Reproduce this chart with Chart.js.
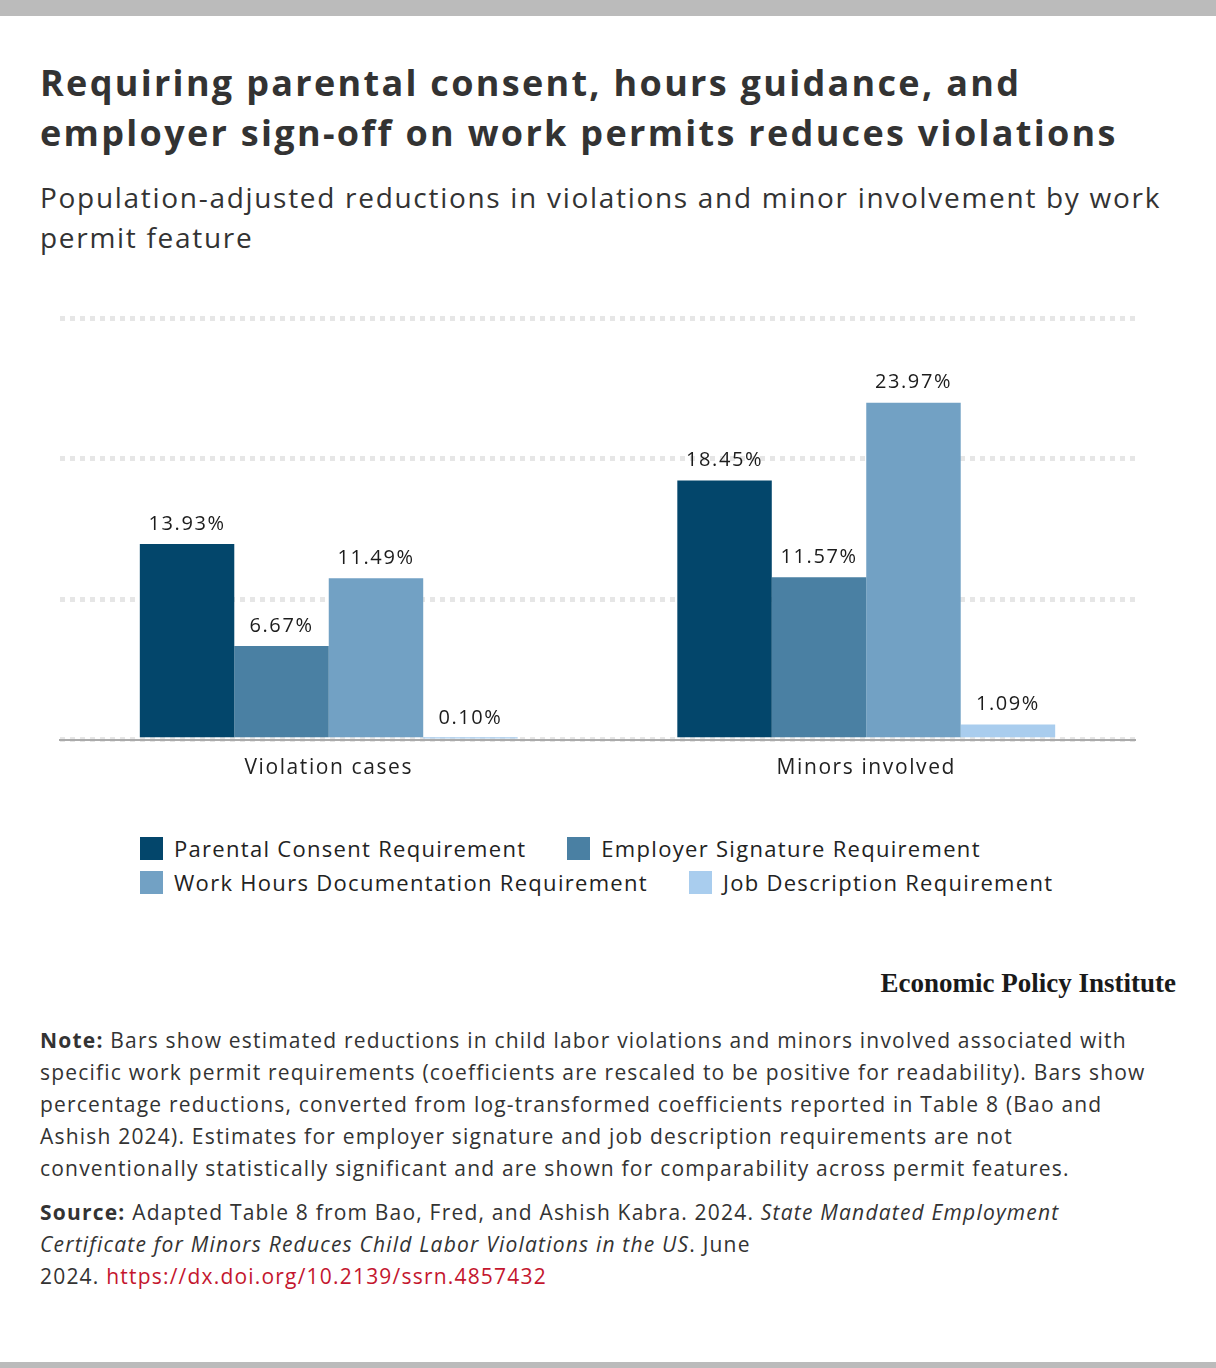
<html>
<head>
	<meta charset="utf-8">
	<title>Work permit features and child labor violations</title>
	<script src="https://cdn.jsdelivr.net/npm/chart.js@4.4.1/dist/chart.umd.min.js"></script>
	<style>
		body { margin: 0; background: #fff; font-family: "Open Sans", Lato, sans-serif; color: #333; }
		#page { position: relative; width: 1216px; height: 1368px; overflow: hidden; }
		.barre { position: absolute; left: 0; width: 1216px; background: #bbbbbb; }
		#titre { position: absolute; left: 40px; top: 58px; font-size: 36px; font-weight: 700; line-height: 50px; letter-spacing: 2.3px; color: #333; white-space: nowrap; }
		#soustitre { position: absolute; left: 40px; top: 177px; font-size: 28px; line-height: 40px; letter-spacing: 1.7px; color: #333; white-space: nowrap; }
		#zone { position: absolute; left: 0; top: 280px; width: 1216px; height: 522px; }
		#legende { position: absolute; left: 140px; top: 831px; font-size: 22px; letter-spacing: 1.3px; color: #222; }
		.ligne { display: flex; height: 34px; align-items: center; white-space: nowrap; }
		.item { display: flex; align-items: center; margin-right: 41px; }
		.carre { width: 23px; height: 23px; margin-right: 11px; }
		#logo { position: absolute; right: 40px; top: 968px; font-family: "Liberation Serif", serif; font-weight: 700; font-size: 27px; color: #1a1a1a; }
		#notes { position: absolute; left: 40px; top: 1024px; font-size: 21px; line-height: 32px; letter-spacing: 1.2px; color: #333; white-space: nowrap; }
		#notes p { margin: 0 0 12px 0; }
		a { color: #c4162e; text-decoration: none; }
	</style>
</head>
<body>
<div id="page">
	<div class="barre" style="top:0; height:16px;"></div>

	<div id="titre">Requiring parental consent, hours guidance, and<br>employer sign-off on work permits reduces violations</div>
	<div id="soustitre">Population-adjusted reductions in violations and minor involvement by work<br>permit feature</div>

	<!-- zone du graphique -->
	<div id="zone"><canvas id="graphe"></canvas></div>

	<div id="legende"></div>

	<div id="logo">Economic Policy Institute</div>

	<div id="notes">
		<p><b>Note:</b> Bars show estimated reductions in child labor violations and minors involved associated with<br>specific work permit requirements (coefficients are rescaled to be positive for readability). Bars show<br>percentage reductions, converted from log-transformed coefficients reported in Table 8 (Bao and<br>Ashish 2024). Estimates for employer signature and job description requirements are not<br>conventionally statistically significant and are shown for comparability across permit features.</p>
		<p><b>Source:</b> Adapted Table 8 from Bao, Fred, and Ashish Kabra. 2024. <i>State Mandated Employment<br>Certificate for Minors Reduces Child Labor Violations in the US</i>. June<br>2024. <a href="https://dx.doi.org/10.2139/ssrn.4857432">https://dx.doi.org/10.2139/ssrn.4857432</a></p>
	</div>

	<div class="barre" style="top:1362px; height:6px;"></div>
</div>

<script>
	// categories et series
	var categories = ["Violation cases", "Minors involved"];
	var nomsSeries = ["Parental Consent Requirement", "Employer Signature Requirement", "Work Hours Documentation Requirement", "Job Description Requirement"];
	var parental = [13.93, 18.45];
	var employeur = [6.67, 11.57];
	var heures = [11.49, 23.97];
	var description = [0.10, 1.09];
	var couleurs = ["#03466b", "#4a80a3", "#72a1c4", "#a9cdee"];
	var ticksY = [0, 10, 20, 30];

	var valeurs = [parental, employeur, heures, description];

	// legende en html, deux lignes comme dans l'original
	var lignes = [[0, 1], [2, 3]];
	var leg = document.getElementById("legende");
	for (var r = 0; r < lignes.length; r++) {
		var div = document.createElement("div");
		div.className = "ligne";
		for (var j = 0; j < lignes[r].length; j++) {
			var k = lignes[r][j];
			div.innerHTML += '<span class="item"><span class="carre" style="background:' + couleurs[k] + '"></span>' + nomsSeries[k] + '</span>';
		}
		leg.appendChild(div);
	}

	// espacement des lettres sur le canvas (police plus etroite que l'originale)
	var espacement = {
		id: "espacement",
		beforeDraw: function(chart) { chart.ctx.letterSpacing = "1.6px"; }
	};

	// etiquettes au-dessus des barres
	var etiquettes = {
		id: "etiquettes",
		afterDatasetsDraw: function(chart) {
			var ctx = chart.ctx;
			ctx.save();
			ctx.font = "20px 'Open Sans'";
			ctx.letterSpacing = "1.6px";
			ctx.fillStyle = "#1c1c1c";
			ctx.textAlign = "center";
			ctx.textBaseline = "middle";
			chart.data.datasets.forEach(function(ds, i) {
				chart.getDatasetMeta(i).data.forEach(function(bar, n) {
					ctx.fillText(ds.data[n].toFixed(2) + "%", bar.x, bar.y - 20);
				});
			});
			ctx.restore();
		}
	};

	var ctx = document.getElementById("graphe").getContext("2d");
	var chart = new Chart(ctx, {
		type: "bar",
		data: {
			labels: categories,
			datasets: valeurs.map(function(v, i) {
				return { label: nomsSeries[i], data: v, backgroundColor: couleurs[i], categoryPercentage: 0.703, barPercentage: 1.0 };
			})
		},
		options: {
			responsive: true,
			maintainAspectRatio: false,
			animation: false,
			layout: { padding: { left: 60, right: 81, top: 38, bottom: 13 } },
			plugins: { legend: { display: false }, tooltip: { enabled: false } },
			scales: {
				x: {
					grid: { display: false },
					border: { color: "#aaaaaa", width: 2 },
					ticks: { color: "#222", font: { family: "Open Sans", size: 21 }, padding: 8 }
				},
				y: {
					min: 0,
					max: 30,
					afterBuildTicks: function(axis) { axis.ticks = ticksY.map(function(t) { return { value: t }; }); },
					ticks: { display: false },
					grid: { color: "#e6e6e6", lineWidth: 5, drawTicks: false },
					border: { display: false, dash: [5, 5] }
				}
			}
		},
		plugins: [espacement, etiquettes]
	});
</script>
</body>
</html>
